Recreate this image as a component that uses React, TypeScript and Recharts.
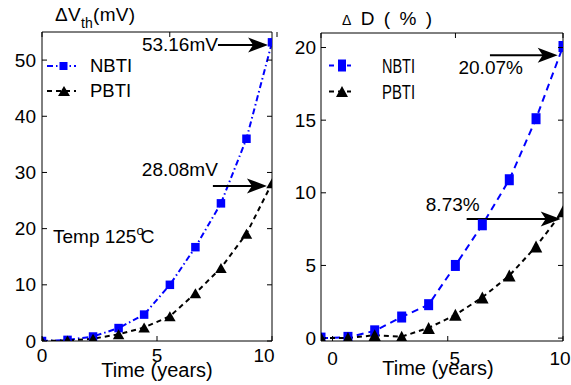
import { LineChart, Line, XAxis, YAxis, ReferenceLine } from 'recharts';

// values
const leftTime = [0, 1.11, 2.22, 3.33, 4.44, 5.56, 6.67, 7.78, 8.89, 10];
const leftNbti = [0, 0.2, 0.8, 2.3, 4.7, 10.0, 16.7, 24.5, 36.0, 53.16];
const leftPbti = [0, 0.1, 0.4, 1.2, 2.4, 4.4, 8.5, 13.0, 19.1, 28.08];

const rightTime = [-0.5, 0.67, 1.83, 3.0, 4.17, 5.33, 6.5, 7.67, 8.83, 10];
const rightNbti = [0, 0.05, 0.5, 1.45, 2.3, 5.0, 7.8, 10.9, 15.1, 20.07];
const rightPbti = [0, 0, 0.2, 0.1, 0.7, 1.6, 2.8, 4.3, 6.3, 8.73];

const xTicks = [0, 5, 10];
const leftYTicks = [0, 10, 20, 30, 40, 50];
const rightYTicks = [0, 5, 10, 15, 20];

// annotation arrows: [fromX, toX, y, text]
const leftNotes: [number, number, number, string][] = [
  [7.65, 9.83, 52.7, '53.16mV'],
  [7.43, 9.78, 27.6, '28.08mV'],
];
const rightNotes: [number, number, number, string][] = [
  [6.83, 9.77, 19.47, '20.07%'],
  [5.82, 9.9, 8.19, '8.73%'],
];
const leftNoteOffsets = [
  [0, 6.5],
  [5, -10],
];
const rightNoteOffsets = [
  [33, 19],
  [13, -8.6],
];

const leftData = leftTime.map((t, i) => ({ t, nbti: leftNbti[i], pbti: leftPbti[i] }));
const rightData = rightTime.map((t, i) => ({ t, nbti: rightNbti[i], pbti: rightPbti[i] }));

const BLUE = '#0000ff';
const FS = 19;

const squareDot = (w: number, h: number) => (p: any) => (
  <rect key={p.key} x={p.cx - w / 2} y={p.cy - h / 2} width={w} height={h} fill={BLUE} />
);
const triDot = (w: number, h: number) => (p: any) => (
  <polygon
    key={p.key}
    points={`${p.cx},${p.cy - h / 2} ${p.cx - w / 2},${p.cy + h / 2} ${p.cx + w / 2},${p.cy + h / 2}`}
    fill="#000"
  />
);

const bottomTick = (base: number, shift: Record<number, number>) => (p: any) => (
  <g>
    <line x1={p.x} y1={p.y} x2={p.x} y2={p.y - 5} stroke="#000" />
    <text x={p.x + (shift[p.payload.value] ?? 0)} y={p.y + base} textAnchor="middle" fontSize={FS} fill="#000">
      {p.payload.value}
    </text>
  </g>
);
const topTick = (p: any) => <line x1={p.x} y1={p.y} x2={p.x} y2={p.y + 5} stroke="#000" />;
const leftTick = (gap: number) => (p: any) => (
  <g>
    <line x1={p.x} y1={p.y} x2={p.x + 5} y2={p.y} stroke="#000" />
    <text x={p.x - gap} y={p.y} dy="0.35em" textAnchor="end" fontSize={FS} fill="#000">
      {p.payload.value}
    </text>
  </g>
);
const rightTick = (p: any) => <line x1={p.x} y1={p.y} x2={p.x - 5} y2={p.y} stroke="#000" />;

const arrow = (text: string, dx: number, dy: number) => (p: any) => {
  const { x1, y1, x2, y2 } = p;
  return (
    <g>
      <line x1={x1} y1={y1} x2={x2 - 12} y2={y2} stroke="#000" strokeWidth={2} />
      <polygon
        points={`${x2},${y2} ${x2 - 20},${y2 - 7.5} ${x2 - 15},${y2} ${x2 - 20},${y2 + 7.5}`}
        fill="#000"
      />
      <text x={x1 + dx} y={y1 + dy} textAnchor="end" fontSize={FS} fill="#000">
        {text}
      </text>
    </g>
  );
};

const frameAxis = { stroke: '#000', strokeWidth: 1 };

export default function App() {
  return (
    <div
      style={{
        position: 'absolute',
        left: 0,
        top: 0,
        width: 571,
        height: 385,
        background: '#fff',
        fontFamily: '"Liberation Sans", Arial, sans-serif',
      }}
    >
      <div style={{ position: 'absolute', left: 0, top: 0 }}>
        <LineChart width={285} height={385} data={leftData} margin={{ top: 31, right: 12, bottom: 0, left: 0 }}>
          <XAxis
            xAxisId="b"
            dataKey="t"
            type="number"
            domain={[0, 10]}
            ticks={xTicks}
            height={44}
            allowDataOverflow
            tickSize={0}
            tickMargin={0}
            tickLine={false}
            axisLine={frameAxis}
            tick={bottomTick(21, { 10: -8 })}
            label={{ value: 'Time (years)', position: 'insideBottom', offset: 8, fill: '#000', fontSize: 20 }}
          />
          <XAxis
            xAxisId="t"
            orientation="top"
            type="number"
            domain={[0, 10]}
            ticks={xTicks}
            height={1}
            allowDataOverflow
            tickSize={0}
            tickMargin={0}
            tickLine={false}
            axisLine={frameAxis}
            tick={topTick}
          />
          <YAxis
            yAxisId="l"
            type="number"
            domain={[0, 55]}
            ticks={leftYTicks}
            width={42}
            allowDataOverflow
            tickSize={0}
            tickMargin={0}
            tickLine={false}
            axisLine={frameAxis}
            tick={leftTick(6)}
          />
          <YAxis
            yAxisId="r"
            orientation="right"
            type="number"
            domain={[0, 55]}
            ticks={leftYTicks}
            width={1}
            allowDataOverflow
            tickSize={0}
            tickMargin={0}
            tickLine={false}
            axisLine={frameAxis}
            tick={rightTick}
          />
          <Line
            xAxisId="b"
            yAxisId="l"
            dataKey="nbti"
            stroke={BLUE}
            strokeWidth={2}
            strokeDasharray="6 3 1.5 3"
            dot={squareDot(8.5, 8.5)}
            activeDot={false}
            isAnimationActive={false}
          />
          <Line
            xAxisId="b"
            yAxisId="l"
            dataKey="pbti"
            stroke="#000"
            strokeWidth={2}
            strokeDasharray="5 4"
            dot={triDot(11.5, 10)}
            activeDot={false}
            isAnimationActive={false}
          />
          {leftNotes.map(([a, b, y, text], i) => (
            <ReferenceLine
              key={text}
              xAxisId="b"
              yAxisId="l"
              segment={[
                { x: a, y },
                { x: b, y },
              ]}
              shape={arrow(text, leftNoteOffsets[i][0], leftNoteOffsets[i][1])}
            />
          ))}
          <text x={55} y={21} fontSize={19} fill="#000" textLength={80} lengthAdjust="spacing">
            ΔV<tspan fontSize={14} dy={7}>th</tspan>
            <tspan dy={-7}>(mV)</tspan>
          </text>
          <text x={53} y={243} fontSize={19} fill="#000">
            Temp 125<tspan fontSize={13} dy={-8}>o</tspan>
            <tspan dy={8} dx={-3}>C</tspan>
          </text>
          <g>
            <line x1={47} y1={66} x2={76} y2={66} stroke={BLUE} strokeWidth={2} strokeDasharray="6 3 1.5 3" />
            <rect x={59.5} y={62} width={8} height={8} fill={BLUE} />
            <text x={90} y={66} dy="0.35em" fontSize={18.5} fill="#000">NBTI</text>
            <line x1={47} y1={91} x2={76} y2={91} stroke="#000" strokeWidth={2} strokeDasharray="5 4" />
            <polygon points="64,86 58,96 70,96" fill="#000" />
            <text x={90} y={91} dy="0.35em" fontSize={18.5} fill="#000">PBTI</text>
          </g>
        </LineChart>
      </div>

      <div style={{ position: 'absolute', left: 285, top: 0 }}>
        <LineChart width={286} height={385} data={rightData} margin={{ top: 32, right: 7, bottom: 0, left: 0 }}>
          <XAxis
            xAxisId="b"
            dataKey="t"
            type="number"
            domain={[-0.5, 10]}
            ticks={xTicks}
            height={44}
            allowDataOverflow
            tickSize={0}
            tickMargin={0}
            tickLine={false}
            axisLine={frameAxis}
            tick={bottomTick(24, { 5: 7, 10: -3 })}
            label={{ value: 'Time (years)', position: 'insideBottom', offset: 10, dx: -4, fill: '#000', fontSize: 20 }}
          />
          <XAxis
            xAxisId="t"
            orientation="top"
            type="number"
            domain={[-0.5, 10]}
            ticks={xTicks}
            height={1}
            allowDataOverflow
            tickSize={0}
            tickMargin={0}
            tickLine={false}
            axisLine={frameAxis}
            tick={topTick}
          />
          <YAxis
            yAxisId="l"
            type="number"
            domain={[-0.2, 21]}
            ticks={rightYTicks}
            width={36}
            allowDataOverflow
            tickSize={0}
            tickMargin={0}
            tickLine={false}
            axisLine={frameAxis}
            tick={leftTick(5)}
          />
          <YAxis
            yAxisId="r"
            orientation="right"
            type="number"
            domain={[-0.2, 21]}
            ticks={rightYTicks}
            width={1}
            allowDataOverflow
            tickSize={0}
            tickMargin={0}
            tickLine={false}
            axisLine={frameAxis}
            tick={rightTick}
          />
          <Line
            xAxisId="b"
            yAxisId="l"
            dataKey="nbti"
            stroke={BLUE}
            strokeWidth={2}
            strokeDasharray="7 5"
            dot={squareDot(9, 11)}
            activeDot={false}
            isAnimationActive={false}
          />
          <Line
            xAxisId="b"
            yAxisId="l"
            dataKey="pbti"
            stroke="#000"
            strokeWidth={2}
            strokeDasharray="5 4"
            dot={triDot(12.5, 12)}
            activeDot={false}
            isAnimationActive={false}
          />
          {rightNotes.map(([a, b, y, text], i) => (
            <ReferenceLine
              key={text}
              xAxisId="b"
              yAxisId="l"
              segment={[
                { x: a, y },
                { x: b, y },
              ]}
              shape={arrow(text, rightNoteOffsets[i][0], rightNoteOffsets[i][1])}
            />
          ))}
          <text x={57} y={25} fontSize={19} fill="#000" textLength={90} lengthAdjust="spacing">
            <tspan fontSize={14}>Δ</tspan> D ( % )
          </text>
          <g>
            <line x1={44} y1={65.5} x2={66} y2={65.5} stroke={BLUE} strokeWidth={2} strokeDasharray="5 4" />
            <rect x={53} y={59.5} width={8} height={12} fill={BLUE} />
            <text x={97} y={65.5} dy="0.35em" fontSize={20} textLength={33} lengthAdjust="spacingAndGlyphs" fill="#000">
              NBTI
            </text>
            <line x1={44} y1={91.5} x2={66} y2={91.5} stroke="#000" strokeWidth={2} strokeDasharray="5 4" />
            <polygon points="57,86 51,97 63,97" fill="#000" />
            <text x={97} y={91.5} dy="0.35em" fontSize={20} textLength={33} lengthAdjust="spacingAndGlyphs" fill="#000">
              PBTI
            </text>
          </g>
        </LineChart>
      </div>
    </div>
  );
}
